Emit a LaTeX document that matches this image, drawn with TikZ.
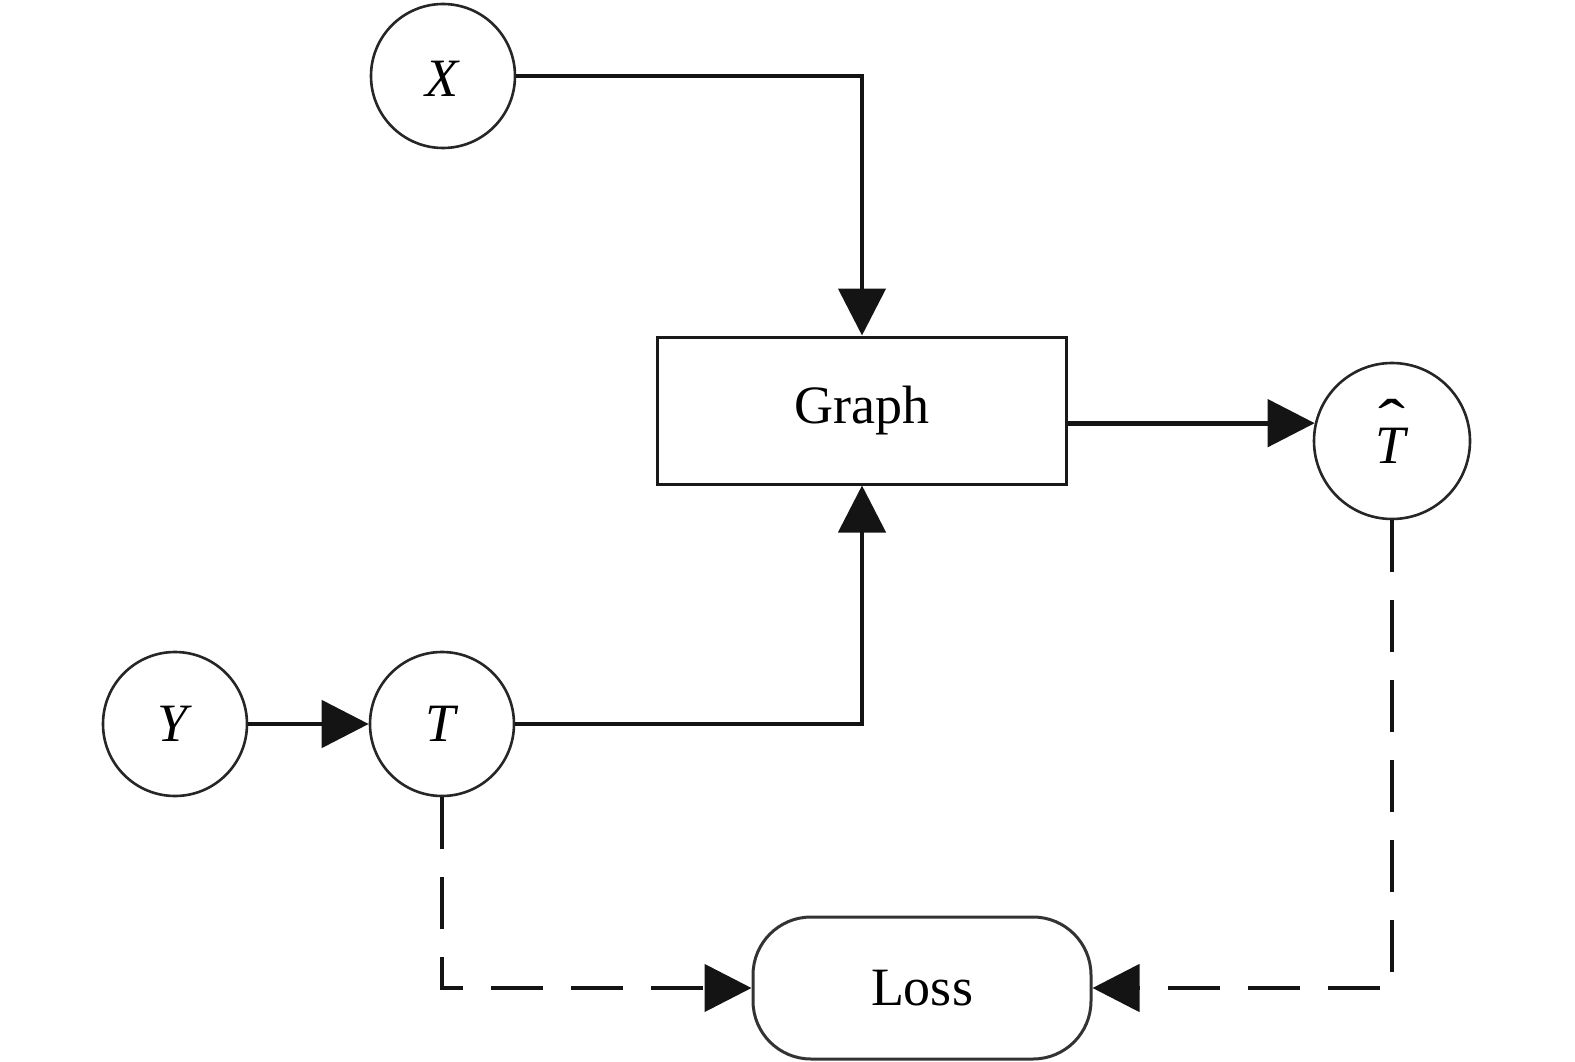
\documentclass[tikz,border=0pt]{standalone}
\usepackage{fontspec}
\usepackage{graphicx}
\setmainfont{Liberation Serif}
\usetikzlibrary{arrows.meta}
\newcommand\myhatT{\raisebox{-5pt}[0.662em][0pt]{\ooalign{\textit{T}\cr\hidewidth\smash{\raisebox{21pt}{\scalebox{1.5}[1.15]{\textup{ˆ}}}}\hidewidth\cr}}}
\begin{document}
\begin{tikzpicture}[x=1pt,y=-1pt,
  every node/.style={font=\fontsize{54}{60}\selectfont, inner sep=0pt},
  var/.style={circle, draw=black!85, line width=2.6pt, minimum size=144pt},
  boxnode/.style={rectangle, draw=black!90, line width=3pt, minimum width=409pt, minimum height=147pt},
  lossnode/.style={rectangle, rounded corners=58pt, draw=black!80, line width=3pt, minimum width=338pt, minimum height=142pt},
  arr/.style={line width=4.8pt, black!92, -{Triangle[length=47pt,width=47pt]}},
  darr/.style={arr, dash pattern=on 52pt off 28pt}
]
\useasboundingbox (0,0) rectangle (1575,1062);
\node[var] (X) at (443,76) {\raisebox{-3pt}[0.662em][0pt]{\textit{X}}};
\node[boxnode] (G) at (862,410.5) {Graph};
\node[var, minimum size=156pt] (TH) at (1392,441) {\myhatT};
\node[var] (Y) at (175,724) {\textit{Y}};
\node[var] (T) at (442,724) {\textit{T}};
\node[lossnode] (L) at (922,988) {Loss};
\draw[arr] (X.east) -| (G.north);
\draw[arr] (T.east) -| (G.south);
\draw[arr] (Y.east) -- (T.west);
\draw[arr] (G.east |- TH.167) -- (TH.167);
\draw[darr] (T.south) |- (L.west);
\draw[darr] (TH.south) |- (L.east);
\end{tikzpicture}
\end{document}
